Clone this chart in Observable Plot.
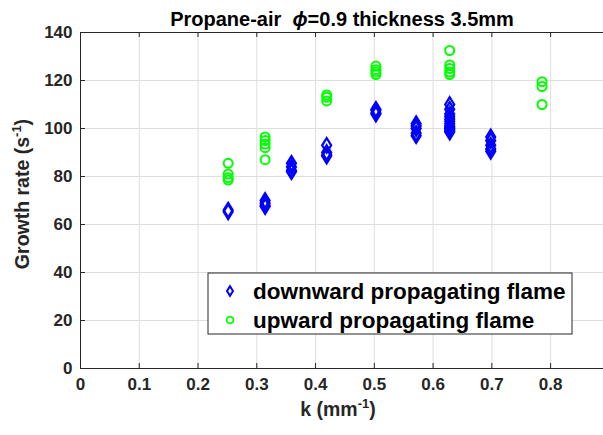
<!DOCTYPE html>
<html><head><meta charset="utf-8">
<script src="https://cdn.jsdelivr.net/npm/d3@7"></script>
<script src="https://cdn.jsdelivr.net/npm/@observablehq/plot@0.6"></script>
<style>body{margin:0;background:#fff} svg{display:block}</style>
</head><body><div id="chart"></div>
<script>
// wavenumbers k (mm^-1)
const kValues = [0.2513, 0.3142, 0.3590, 0.4189, 0.5027, 0.5712, 0.6283, 0.6981, 0.7854];
// growth rates (s^-1) per k
const downwardRates = [
  [66, 65.3],
  [70, 69, 68, 67.5],
  [85.5, 84, 82.5, 82],
  [93, 90, 89, 88.5],
  [108, 107.5, 106.5, 106],
  [102, 101, 100, 98, 97],
  [110, 108, 106, 105, 104, 103, 102, 101, 100.5, 100, 99.5, 99, 98.5],
  [96.5, 95, 93, 91.5, 90.5],
  []
];
const upwardRates = [
  [85.5, 81, 79.5, 78.5],
  [96.5, 95, 93.5, 92, 87],
  [],
  [114, 113, 111.5],
  [126, 124.5, 123.5, 122.5],
  [],
  [132.5, 126.5, 125, 123.5, 122.5],
  [],
  [119.5, 117.5, 110]
];
const xTicks = [0, 0.1, 0.2, 0.3, 0.4, 0.5, 0.6, 0.7, 0.8];
const yTicks = [0, 20, 40, 60, 80, 100, 120, 140];
const seriesNames = ["downward propagating flame", "upward propagating flame"];

const downRows = kValues.flatMap((k, i) => downwardRates[i].map(rate => ({k, rate})));
const upRows = kValues.flatMap((k, i) => upwardRates[i].map(rate => ({k, rate})));

const W = 603, H = 435, mL = 80, mR = 0, mT = 32, mB = 67;
const pw = W - mL - mR, ph = H - mT - mB;
const axisColor = "#262626";
const gridColor = "#dedede";
const blue = "#0000ff", green = "#00ff00";
const font = "'Liberation Sans', Arial, Helvetica, sans-serif";

// MATLAB-like diamond (taller than wide)
const matlabDiamond = {
  draw(context, size) {
    const s = Math.sqrt(size / Math.PI);
    context.moveTo(0, -1.62 * s);
    context.lineTo(s, 0);
    context.lineTo(0, 1.62 * s);
    context.lineTo(-s, 0);
    context.closePath();
  }
};

const plot = Plot.plot({
  width: W, height: H,
  marginLeft: mL, marginRight: mR, marginTop: mT, marginBottom: mB,
  style: {fontFamily: font, background: "white", overflow: "visible"},
  x: {domain: [0, 0.89], label: null},
  y: {domain: [0, 140], label: null},
  marks: [
    Plot.gridX(xTicks.slice(1), {stroke: gridColor, strokeOpacity: 1}),
    Plot.gridY(yTicks.slice(1, -1), {stroke: gridColor, strokeOpacity: 1}),
    Plot.ruleX(xTicks.slice(1), {insetTop: ph - 5, stroke: axisColor}),
    Plot.ruleX(xTicks.slice(1), {insetBottom: ph - 5, stroke: axisColor}),
    Plot.ruleY(yTicks.slice(1, -1), {insetRight: pw - 5, stroke: axisColor}),
    Plot.axisX(xTicks, {tickSize: 0, tickPadding: 9, fontSize: 17, fontWeight: "bold", fill: axisColor,
      tickFormat: d => String(d), label: null}),
    Plot.axisY(yTicks, {tickSize: 0, tickPadding: 8, fontSize: 17, fontWeight: "bold", fill: axisColor,
      tickFormat: d => String(d), label: null}),
    Plot.ruleX([0], {stroke: axisColor}),
    Plot.ruleY([0], {stroke: axisColor}),
    Plot.ruleY([140], {stroke: axisColor}),
    Plot.dot(downRows, {x: "k", y: "rate", symbol: matlabDiamond, r: 4.5, stroke: blue, strokeWidth: 2.2, fill: "none"}),
    Plot.dot(upRows, {x: "k", y: "rate", symbol: "circle", r: 4.5, stroke: green, strokeWidth: 2, fill: "none"})
  ]
});
document.getElementById("chart").appendChild(plot);

const svg = d3.select(plot);
// title
const t = svg.append("text").attr("x", 342).attr("y", 26).attr("text-anchor", "middle")
  .attr("font-family", font).attr("font-size", 20).attr("font-weight", "bold").attr("fill", "#000");
t.append("tspan").text("Propane-air\u00a0\u00a0");
t.append("tspan").attr("font-style", "italic").text("\u03d5");
t.append("tspan").text("=0.9 thickness 3.5mm");

// x label
const xl = svg.append("text").attr("x", 338).attr("y", 416).attr("text-anchor", "middle")
  .attr("font-family", font).attr("font-size", 19.5).attr("font-weight", "bold").attr("fill", axisColor);
xl.append("tspan").text("k (mm");
xl.append("tspan").attr("font-size", 13).attr("dy", -8).text("-1");
xl.append("tspan").attr("dy", 8).text(")");

// y label
const yl = svg.append("text").attr("transform", "translate(29,194) rotate(-90)").attr("text-anchor", "middle")
  .attr("font-family", font).attr("font-size", 19.5).attr("font-weight", "bold").attr("fill", axisColor);
yl.append("tspan").text("Growth rate (s");
yl.append("tspan").attr("font-size", 13).attr("dy", -8).text("-1");
yl.append("tspan").attr("dy", 8).text(")");

// legend
const lg = svg.append("g").attr("text-anchor", "start");
lg.append("rect").attr("x", 208).attr("y", 273).attr("width", 364).attr("height", 61)
  .attr("fill", "white").attr("stroke", axisColor).attr("stroke-width", 1);
lg.append("path").attr("d", d3.symbol(matlabDiamond, 28)())
  .attr("transform", "translate(230,291)").attr("fill", "none").attr("stroke", blue).attr("stroke-width", 2);
lg.append("circle").attr("cx", 230).attr("cy", 320).attr("r", 3.4)
  .attr("fill", "none").attr("stroke", green).attr("stroke-width", 1.8);
seriesNames.forEach((name, i) => {
  lg.append("text").attr("x", 253).attr("y", 298.5 + i * 29).attr("text-anchor", "start")
    .attr("font-family", font).attr("font-size", 22.5).attr("font-weight", "bold").attr("fill", "#000").text(name);
});
</script></body></html>
